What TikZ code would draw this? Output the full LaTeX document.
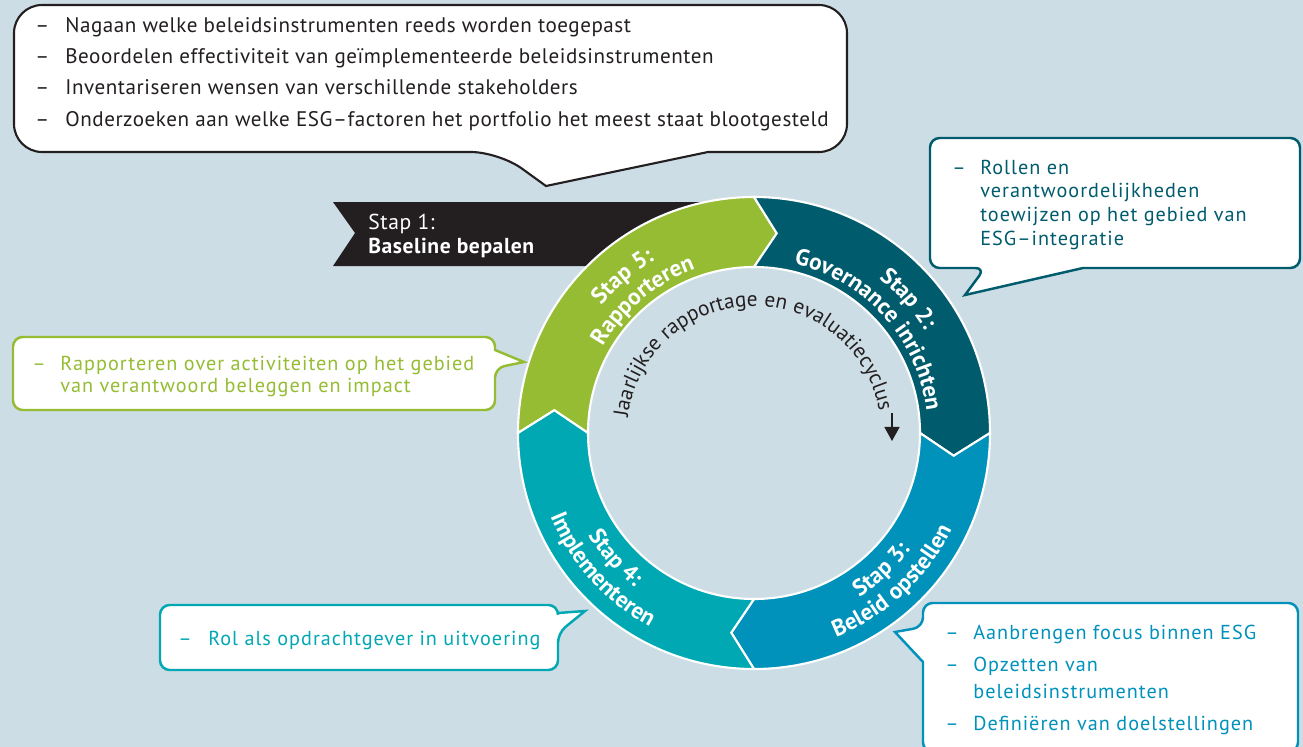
\documentclass[tikz,border=0pt]{standalone}
\usepackage{fontspec}
\setmainfont{PT Sans}
\newfontfamily\callfont{PT Sans}[LetterSpace=5]
\newfontfamily\topfont{PT Sans}[LetterSpace=2.6]
\usetikzlibrary{arrows.meta,decorations.text}

\definecolor{achter}{HTML}{CDDDE5}
\definecolor{zwart}{HTML}{231F20}
\definecolor{groen}{HTML}{95BC33}
\definecolor{petrol}{HTML}{005B6D}
\definecolor{blauw}{HTML}{0092BB}
\definecolor{turkoois}{HTML}{00A8B3}

\newcommand\ringfont{\topfont\fontsize{13.2}{15}\selectfont\bfseries}

\tikzset{
  bubble/.style={fill=white, line width=1.4pt, rounded corners=5.5pt},
  bullets/.style={anchor=base west, inner sep=0pt,
    font=\callfont\fontsize{11.5}{13.6}\selectfont},
  segment/.style={fill=#1, draw=white, line width=1.2pt},
  ringtext/.style={decorate, decoration={text along path, text align=center,
      text color=white, text={|\ringfont|#1}}},
}

\begin{document}
\begin{tikzpicture}[x=0.02cm, y=0.02cm]

  \newcommand\Ro{236}
  \newcommand\Ri{166}
  \newcommand\Rm{201}
  \newcommand\segm[2]{%
    \draw[segment=#2] (#1:\Ro) arc[start angle=#1, end angle=#1-90, radius=\Ro]
    -- (#1-96.5:\Rm) -- (#1-90:\Ri) arc[start angle=#1-90, end angle=#1, radius=\Ri]
    -- (#1-6.5:\Rm) -- cycle;}

  \fill[achter] (0,0) rectangle (1303,-747); %% background
  \useasboundingbox (0,0) rectangle (1303,-747);

  %% stap 1 banner
  \fill[zwart] (333,-202) -- (720,-202) -- (720,-266) -- (333,-266) -- (355,-233) -- cycle;
  \node[anchor=base west, inner sep=0pt, text=white, font=\topfont\fontsize{12.3}{14}\selectfont]
  (stap1) at (368,-229) {Stap 1:};
  \node[anchor=base west, inner sep=0pt, text=white, font=\topfont\fontsize{12.3}{14}\selectfont\bfseries]
  (baseline) at (368,-253) {Baseline bepalen};

  %% ring
  \begin{scope}[shift={(754,-433)}]
    \segm{180}{groen}
    \segm{90}{petrol}
    \segm{0}{blauw}
    \segm{-90}{turkoois}

    \path[ringtext={Stap 5:}] (180:199) arc[start angle=180, end angle=80, radius=199];
    \path[ringtext={Rapporteren}] (180:174) arc[start angle=180, end angle=80, radius=174];
    \path[ringtext={Stap 2:}] (91:199) arc[start angle=91, end angle=-9, radius=199];
    \path[ringtext={Governance inrichten}] (92:174) arc[start angle=92, end angle=-8, radius=174];
    \path[ringtext={Stap 3:}] (-97:195) arc[start angle=-97, end angle=3, radius=195];
    \path[ringtext={Beleid opstellen}] (-97:220) arc[start angle=-97, end angle=3, radius=220];
    \path[ringtext={Stap 4:}] (172:195) arc[start angle=172, end angle=272, radius=195];
    \path[ringtext={Implementeren}] (172:220) arc[start angle=172, end angle=272, radius=220];

    \path[decorate, decoration={text along path, text color=zwart,
        text={|\topfont\fontsize{12.1}{14}\selectfont|Jaarlijkse rapportage en evaluatiecyclus}}]
    (173:127) arc[start angle=173, end angle=-20, radius=127];
  \end{scope}
  \coordinate (cyclusend) at (892,-413);
  \coordinate (cyclustip) at (892,-441);
  \draw[zwart, line width=1.1pt, -{Triangle[length=8pt, width=8.5pt]}] (cyclusend) -- (cyclustip);

  %% stap 1 bubble
  \draw[bubble, draw=zwart, line width=1.2pt, rounded corners=16pt]
  (400,-5) -- (14,-5) -- (14,-152) -- (499,-152) [sharp corners] -- (546,-186)
  -- (708,-152) [rounded corners=16pt] -- (847,-152) -- (847,-5) -- cycle;
  \node[anchor=base west, inner sep=0pt, text=zwart, font=\topfont\fontsize{12}{17.9}\selectfont]
  (baselist) at (35,-32) {\begin{tabular}[t]{@{}p{0.6cm}@{}l@{}}
      – & Nagaan welke beleidsinstrumenten reeds worden toegepast\\
      – & Beoordelen effectiviteit van geïmplementeerde beleidsinstrumenten\\
      – & Inventariseren wensen van verschillende stakeholders\\
      – & Onderzoeken aan welke ESG–factoren het portfolio het meest staat blootgesteld
    \end{tabular}};

  %% stap 2 bubble
  \draw[bubble, draw=petrol]
  (1100,-138) -- (930,-138) -- (930,-268) -- (985,-268) [sharp corners] -- (965,-295)
  -- (1083,-268) [rounded corners=5.5pt] -- (1300,-268) -- (1300,-138) -- cycle;
  \node[bullets, text=petrol] (govlist) at (952,-174) {\begin{tabular}[t]{@{}p{0.56cm}@{}l@{}}
      – & Rollen en\\
        & verantwoordelijkheden\\
        & toewijzen op het gebied van\\
        & ESG–integratie
    \end{tabular}};

  %% stap 3 bubble
  \draw[bubble, draw=blauw]
  (1100,-603) -- (923,-603) -- (923,-627) [sharp corners] -- (895,-632)
  -- (923,-662) [rounded corners=5.5pt] -- (923,-752) -- (1298,-752) -- (1298,-603) -- cycle;
  \node[bullets, text=blauw, font=\callfont\fontsize{11.5}{15.3}\selectfont]
  (beleidlist) at (945,-639) {\begin{tabular}[t]{@{}p{0.56cm}@{}l@{}}
      – & Aanbrengen focus binnen ESG\\[3pt]
      – & Opzetten van\\
        & beleidsinstrumenten\\[3pt]
      – & Definiëren van doelstellingen
    \end{tabular}};

  %% stap 4 bubble
  \draw[bubble, draw=turkoois]
  (300,-605) -- (160,-605) -- (160,-670) -- (558,-670) -- (558,-633) [sharp corners]
  -- (585,-611) -- (558,-613) [rounded corners=5.5pt] -- (558,-605) -- cycle;
  \node[bullets, text=turkoois] (implist) at (178,-645) {\begin{tabular}[t]{@{}p{0.6cm}@{}l@{}}
      – & Rol als opdrachtgever in uitvoering
    \end{tabular}};

  %% stap 5 bubble
  \draw[bubble, draw=groen]
  (200,-337) -- (13,-337) -- (13,-410) -- (495,-410) -- (495,-368) [sharp corners]
  -- (524,-362) -- (495,-350) [rounded corners=5.5pt] -- (495,-337) -- cycle;
  \node[bullets, text=groen, font=\callfont\fontsize{11.5}{13}\selectfont]
  (rapplist) at (32,-370) {\begin{tabular}[t]{@{}p{0.56cm}@{}l@{}}
      – & Rapporteren over activiteiten op het gebied\\
        & van verantwoord beleggen en impact
    \end{tabular}};

\end{tikzpicture}
\end{document}
